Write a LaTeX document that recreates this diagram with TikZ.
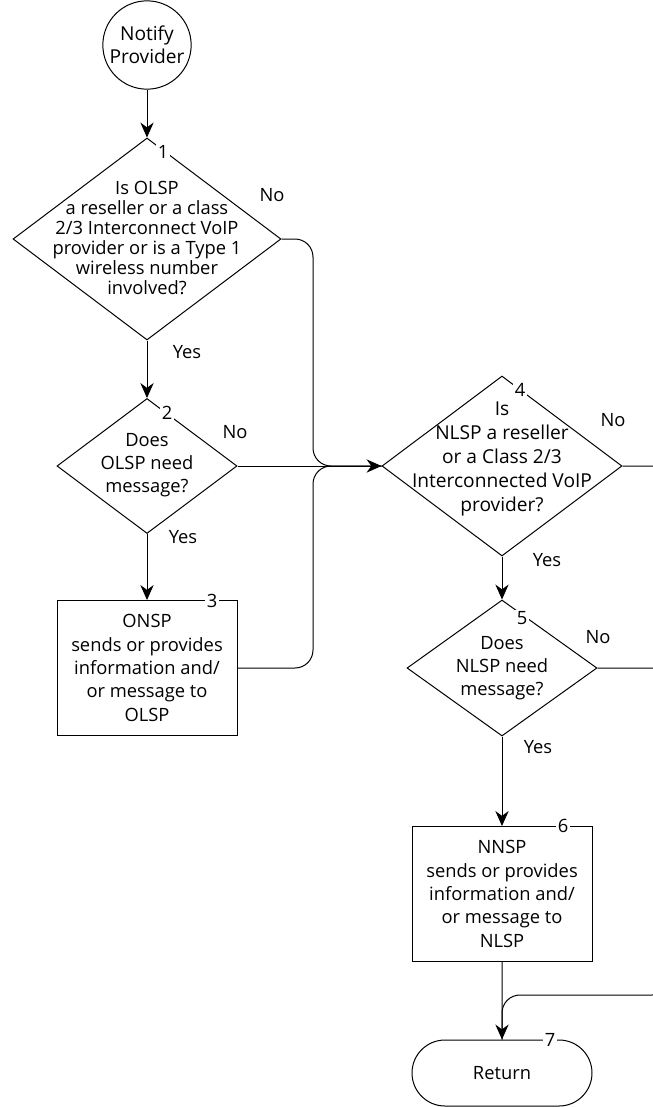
\documentclass[tikz,border=0pt]{standalone}
\usepackage{fontspec}
\setmainfont{Open Sans}
\usetikzlibrary{arrows.meta,shapes.geometric,shapes.misc}

\begin{document}
\begin{tikzpicture}[
    x=0.6pt, y=-0.6pt,
    line width=0.6pt,
    font=\fontsize{11}{14}\selectfont,
    box/.style={
        draw,
        minimum width=108pt,
        minimum height=81pt,
        align=center,
        inner sep=0pt
    },
    decision/.style={
        draw,
        diamond,
        inner sep=0pt
    },
    qtext/.style={align=center, inner sep=0pt},
    num/.style={fill=white, inner sep=1pt},
    lbl/.style={inner sep=0pt},
    arr/.style={-{Stealth[length=9pt,width=8pt]}},
    link/.style={rounded corners=10.8pt}
]
\useasboundingbox (0,0) rectangle (653,1107);
\clip (0,0) rectangle (653,1107);

% Start
\node[draw, circle, minimum size=53pt, inner sep=0pt, align=center, font=\fontsize{11.5}{14}\selectfont] (start) at (147,45) {Notify\\Provider};

% Decision 1
\node[decision, minimum width=160.8pt, minimum height=121.2pt] (d1) at (147,239) {};
\node[qtext, font=\fontsize{11}{12}\selectfont] (d1text) at (147,238) {Is OLSP\\a reseller or a class\\2/3 Interconnect VoIP\\provider or is a Type 1\\wireless number\\involved?};
\node[num] (n1) at (163,152) {1};
\node[lbl] (no1) at (272,195) {No};
\node[lbl] (yes1) at (187,352) {Yes};

% Decision 2
\node[decision, minimum width=108pt, minimum height=81pt] (d2) at (147,466) {};
\node[qtext] (d2text) at (147,465) {Does\\OLSP need\\message?};
\node[num] (n2) at (167,413) {2};
\node[lbl] (no2) at (235,432) {No};
\node[lbl] (yes2) at (183,537) {Yes};

% Box 3
\node[box] (b3) at (147,668) {ONSP\\sends or provides\\information and/\\or message to\\OLSP};
\node[num] (n3) at (212,601) {3};

% Decision 4
\node[decision, minimum width=144pt, minimum height=108pt] (d4) at (502,466) {};
\node[qtext, font=\fontsize{11.5}{14.4}\selectfont] (d4text) at (502,459) {Is\\NLSP a reseller\\or a Class 2/3\\Interconnected VoIP\\provider?};
\node[num] (n4) at (520,390) {4};
\node[lbl] (no4) at (613,420) {No};
\node[lbl] (yes4) at (547,560) {Yes};

% Decision 5
\node[decision, minimum width=114pt, minimum height=81.6pt] (d5) at (502,668) {};
\node[qtext] (d5text) at (502,668) {Does\\NLSP need\\message?};
\node[num] (n5) at (522,618) {5};
\node[lbl] (no5) at (598,637) {No};
\node[lbl] (yes5) at (538,747) {Yes};

% Box 6
\node[box] (b6) at (502,894) {NNSP\\sends or provides\\information and/\\or message to\\NLSP};
\node[num] (n6) at (563,826) {6};

% Return
\node[draw, rounded rectangle, minimum width=108pt, minimum height=39.6pt, inner sep=0pt] (ret) at (502,1073) {Return};
\node[num] (n7) at (550,1040) {7};

% Junctions
\coordinate (merge) at (313,466);
\coordinate (back) at (670,995);

% Connectors
\draw[arr] (start) -- (d1);
\draw[arr] (d1) -- (d2);
\draw[arr] (d2) -- (b3);
\draw[arr] (d2) -- (d4);
\draw[link] (d1.east) -| (merge) -- (d4.west);
\draw[link] (b3.east) -| (merge) -- (d4.west);
\draw[arr] (d4) -- (d5);
\draw[arr] (d5) -- (b6);
\draw[arr] (b6) -- (ret);
\draw[link] (d4.east) -| (back) -| (ret.north);
\draw[link] (d5.east) -| (back);

\end{tikzpicture}
\end{document}
